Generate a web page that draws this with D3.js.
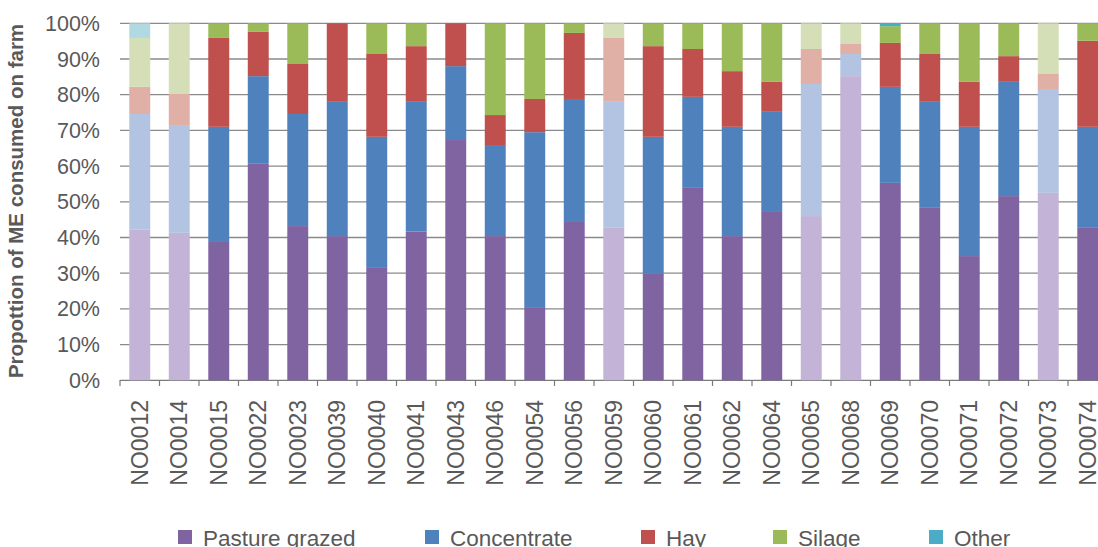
<!DOCTYPE html>
<html><head><meta charset="utf-8">
<script src="https://cdn.jsdelivr.net/npm/d3@7"></script>
<style>body{margin:0;background:#fff}svg{display:block}text{font-family:"Liberation Sans",Arial,sans-serif}</style>
</head><body><svg id="c" width="1098" height="547"></svg>
<script>
const categories = ["NO0012","NO0014","NO0015","NO0022","NO0023","NO0039","NO0040","NO0041","NO0043","NO0046","NO0054","NO0056","NO0059","NO0060","NO0061","NO0062","NO0064","NO0065","NO0068","NO0069","NO0070","NO0071","NO0072","NO0073","NO0074"];
const pasture     = [42.3,41.3,39.0,60.8,43.2,40.4,31.7,41.7,67.3,40.4,20.5,44.6,42.7,29.8,53.9,40.4,47.4,46.0,85.2,55.3,48.3,34.8,51.6,52.5,42.7];
const concentrate = [32.3,30.2,32.0,24.4,31.4,37.6,36.5,36.3,20.7,25.5,49.0,34.2,35.3,38.4,25.5,30.6,27.8,37.0, 6.2,26.9,29.7,36.2,32.0,29.1,28.3];
const hay         = [ 7.6, 8.7,24.9,12.4,14.0,22.0,23.2,15.6,12.0, 8.4, 9.3,18.5,17.9,25.4,13.4,15.6, 8.4, 9.8, 2.8,12.3,13.4,12.6, 7.2, 4.2,24.1];
const silage      = [13.7,19.8, 4.1, 2.4,11.4, 0.0, 8.6, 6.4, 0.0,25.7,21.2, 2.7, 4.1, 6.4, 7.2,13.4,16.4, 7.2, 5.8, 4.7, 8.6,16.4, 9.2,14.2, 4.9];
const other       = [ 4.1, 0.0, 0.0, 0.0, 0.0, 0.0, 0.0, 0.0, 0.0, 0.0, 0.0, 0.0, 0.0, 0.0, 0.0, 0.0, 0.0, 0.0, 0.0, 0.8, 0.0, 0.0, 0.0, 0.0, 0.0];
const faded = ["NO0012","NO0014","NO0059","NO0065","NO0068","NO0073"];
const seriesNames = ["Pasture grazed","Concentrate","Hay","Silage","Other"];
const yTicks = [0,10,20,30,40,50,60,70,80,90,100];

const colors = ["#8064A2","#4F81BD","#C0504D","#9BBB59","#4BACC6"];
const fadedColors = ["#C3B3D6","#B3C4E2","#E0AFA6","#D5DFB7","#B1D9E2"];
const seriesVals = [pasture,concentrate,hay,silage,other];

const svg = d3.select("#c");
const x = d3.scaleBand().domain(categories).range([120,1107.5]).paddingInner(0.47).paddingOuter(0.235);
const y = d3.scaleLinear().domain([0,100]).range([380.3,23.3]);
const textCol = "#595959";

// gridlines
svg.append("g").selectAll("line").data(yTicks).join("line")
  .attr("x1",120).attr("x2",1098)
  .attr("y1",d=>y(d)).attr("y2",d=>y(d))
  .attr("stroke",d=>d===0?"#7a7a7a":"#8a8a8a").attr("stroke-width",1.3);

// y tick labels
svg.append("g").selectAll("text").data(yTicks).join("text")
  .attr("x",100).attr("y",d=>y(d)).attr("dy","0.35em")
  .attr("text-anchor","end").attr("fill",textCol).attr("font-size",21.5)
  .text(d=>d+"%");

// x ticks
const step = x.step();
svg.append("g").selectAll("line").data(d3.range(categories.length+1)).join("line")
  .attr("x1",i=>120+i*step).attr("x2",i=>120+i*step)
  .attr("y1",380).attr("y2",386).attr("stroke","#7a7a7a").attr("stroke-width",1.2);

// stacked bars
const rows = categories.map((c,i)=>{const r={cat:c}; seriesNames.forEach((s,k)=>r[s]=seriesVals[k][i]); return r;});
const stacked = d3.stack().keys(seriesNames)(rows);
stacked.forEach((layer,k)=>{
  svg.append("g").selectAll("rect").data(layer).join("rect")
    .attr("x",d=>x(d.data.cat)).attr("width",x.bandwidth())
    .attr("y",d=>y(d[1])).attr("height",d=>Math.max(0,y(d[0])-y(d[1])))
    .attr("fill",d=>faded.includes(d.data.cat)?fadedColors[k]:colors[k]);
});

// x labels
svg.append("g").selectAll("text").data(categories).join("text")
  .attr("transform",d=>`translate(${x(d)+x.bandwidth()/2},400) rotate(-90)`)
  .attr("dy","0.35em").attr("text-anchor","end").attr("fill",textCol).attr("font-size",23)
  .text(d=>d);

// y axis title
svg.append("text").attr("transform","translate(23,201) rotate(-90)")
  .attr("text-anchor","middle").attr("fill",textCol)
  .attr("font-size",20.5).attr("font-weight","bold")
  .text("Propottion of ME consumed on farm");

// legend
const legX = [178,425,641,773,929];
const lg = svg.append("g").selectAll("g").data(seriesNames).join("g")
  .attr("transform",(d,i)=>`translate(${legX[i]},530)`);
lg.append("rect").attr("width",14).attr("height",14).attr("fill",(d,i)=>colors[i]);
lg.append("text").attr("x",25).attr("y",15.5).attr("fill",textCol).attr("font-size",22.5).text(d=>d);
</script></body></html>
